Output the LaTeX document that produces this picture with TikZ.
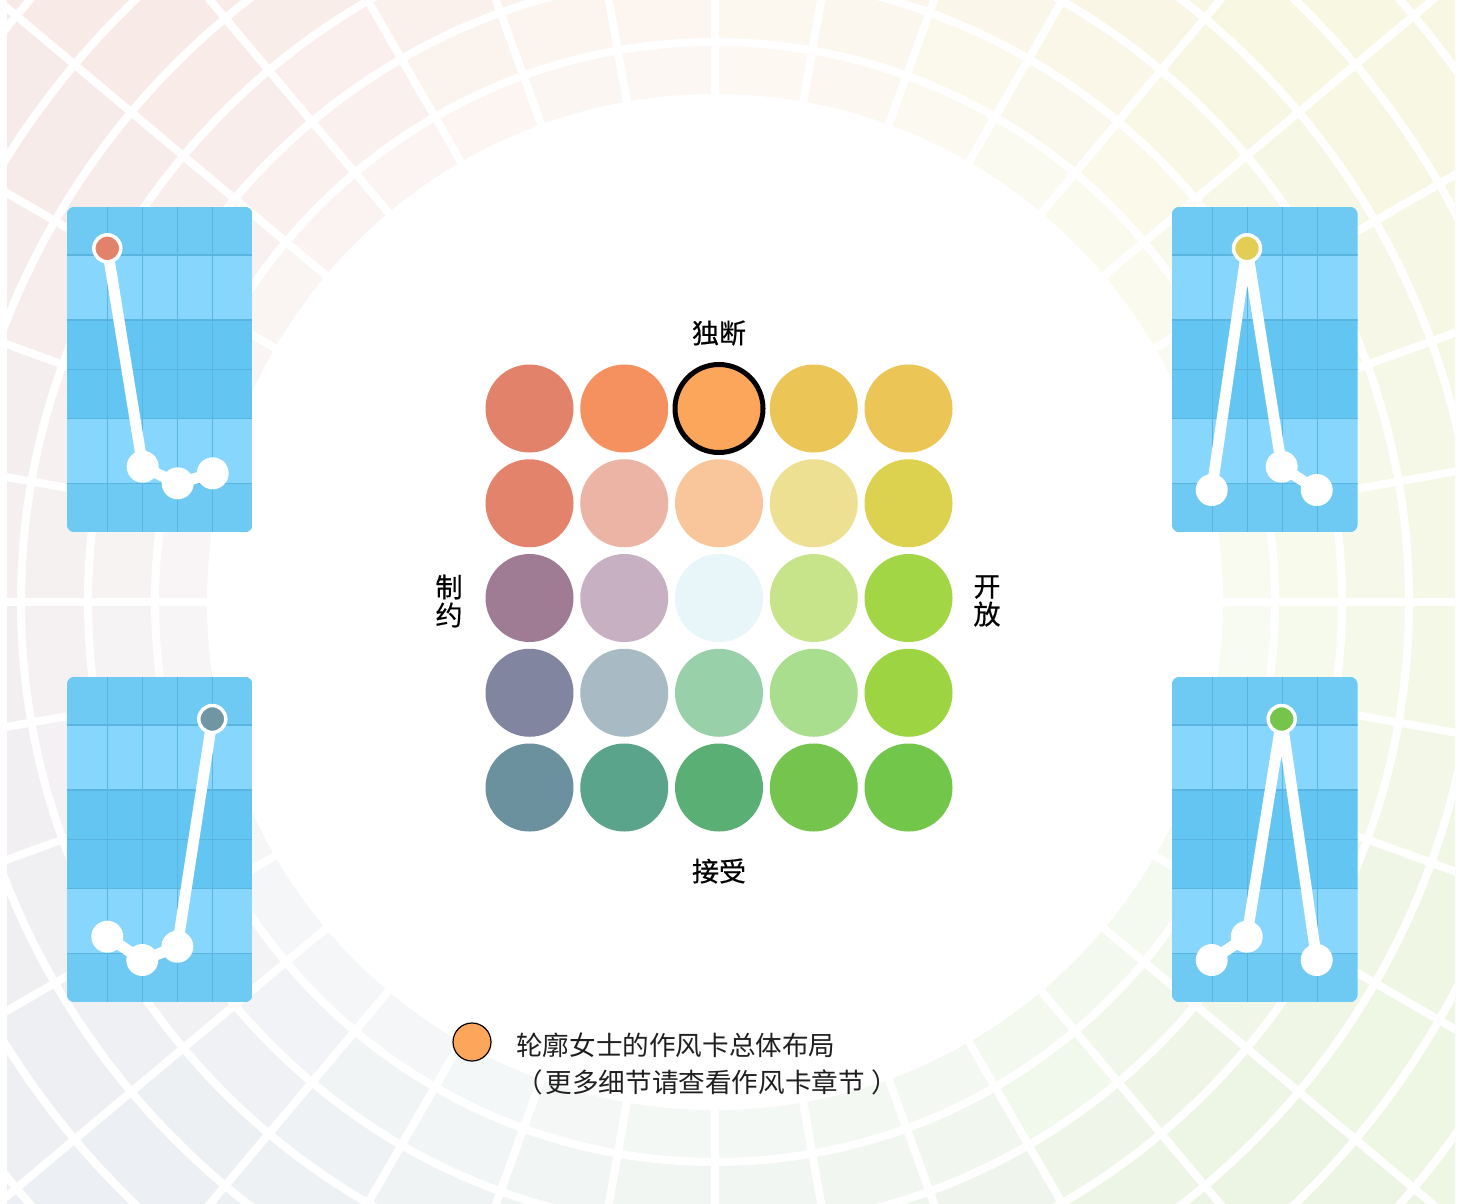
\documentclass[tikz,border=0pt]{standalone}
\usepackage{fontspec}
\newfontfamily\cjk{Noto Sans CJK SC}
\newfontfamily\cjkm{Noto Sans CJK SC}[FakeBold=0.5]
\usetikzlibrary{calc}
% background hue anchors (tikz angle, y pointing down)
\definecolor{c0}{HTML}{F4F8E6}
\definecolor{c1}{HTML}{ECF5E3}
\definecolor{c2}{HTML}{EBF3EE}
\definecolor{c3}{HTML}{ECEFF3}
\definecolor{c4}{HTML}{F4EEF0}
\definecolor{c5}{HTML}{F8EAE7}
\definecolor{c6}{HTML}{FCF3EA}
\definecolor{c7}{HTML}{F8F7E2}
\definecolor{c8}{HTML}{F4F8E6}
\definecolor{tmid}{HTML}{6ECAF3}
\definecolor{tlight}{HTML}{86D6FD}
\definecolor{tdark}{HTML}{63C5F1}
\definecolor{tgrid}{HTML}{59B5E0}
\definecolor{dotTL}{HTML}{E2826B}
\definecolor{dotTR}{HTML}{E3CD55}
\definecolor{dotBL}{HTML}{6F96A2}
\definecolor{dotBR}{HTML}{76C54B}
\definecolor{legendfill}{HTML}{FCA65B}
\tikzset{
  gridline/.style={white, line width=8},
  tline/.style={tgrid, line width=1.3},
  link/.style={white, line width=11, line cap=round, line join=round},
  wpt/.style={circle, fill=white, minimum size=32, inner sep=0},
  cdot/.style={circle, fill=#1, draw=white, line width=3.5, minimum size=27, inner sep=0},
  swatch/.style={circle, fill=#1, minimum size=88, inner sep=0},
  lbl/.style={inner sep=0, font=\cjkm\fontsize{27}{28}\selectfont, text=black},
  legtext/.style={inner sep=0, anchor=west, font=\cjk\fontsize{26.6}{37}\selectfont, text=black!88}
}
\newcommand\tilepanel[2]{%
  \begin{scope}[shift={(#1,#2)}]
    \begin{scope}
      \clip[rounded corners=8] (0,0) rectangle (186,325.6);
      \fill[tmid] (0,0) rectangle (186,48.3);
      \fill[tlight] (0,48.3) rectangle (186,113.3);
      \fill[tdark] (0,113.3) rectangle (186,211.6);
      \fill[tlight] (0,211.6) rectangle (186,276.6);
      \fill[tmid] (0,276.6) rectangle (186,325.6);
      \foreach \xx in {40.5,75.5,110.5,145.5} \draw[tline] (\xx,0) -- (\xx,325.6);
      \foreach \yy in {48.3,113.3,162.6,211.6,276.6} \draw[tline] (0,\yy) -- (186,\yy);
    \end{scope}
  \end{scope}}
\begin{document}
\begin{tikzpicture}[x=1pt,y=-1pt]
\useasboundingbox (0,0) rectangle (1466,1203);
\fill[white] (0,0) rectangle (1466,1203);
\coordinate (C) at (715,602);
% ---- background colour wheel ----
\begin{scope}
  \clip (7,0) rectangle (1455,1203);
  \foreach \k in {0,...,35}{
    \pgfmathsetmacro\mid{10*\k+5}
    \pgfmathtruncatemacro\ia{floor(\mid/45)}
    \pgfmathtruncatemacro\ib{\ia+1}
    \pgfmathtruncatemacro\tt{round((\mid-45*\ia)/45*100)}
    \pgfmathsetmacro\sa{10*\k}
    \fill[c\ib!\tt!c\ia] (715,602) -- ++(\sa:1150) arc[start angle=\sa, delta angle=10, radius=1150] -- cycle;
  }
  \foreach \ri/\ro/\op in {500/564/0.45, 564/631/0.3, 631/698/0.18, 698/766/0.08}{
    \fill[white, opacity=\op, even odd rule] (715,602) circle[radius=\ro] (715,602) circle[radius=\ri];
  }
  \foreach \r in {560,627,694,762,836,912,995}
    \draw[gridline] (715,602) circle[radius=\r];
  \foreach \a in {0,10,...,350}
    \draw[gridline] (715,602) ++(\a:500) -- ++(\a:700);
\end{scope}
\fill[white] (C) circle[radius=508];
% ---- panels ----
\tilepanel{66.7}{206.7}
\tilepanel{1171.7}{206.7}
\tilepanel{66.7}{676.7}
\tilepanel{1171.7}{676.7}
% top-left
\coordinate (tl0) at (107.3,248.3);
\coordinate (tl1) at (142.7,466.7);
\coordinate (tl2) at (177.7,483.3);
\coordinate (tl3) at (212.7,473.3);
\draw[link] (tl0) -- (tl1) -- (tl2) -- (tl3);
\node[wpt] (tlp1) at (tl1) {};
\node[wpt] (tlp2) at (tl2) {};
\node[wpt] (tlp3) at (tl3) {};
\node[cdot=dotTL] (tld) at (tl0) {};
% top-right
\coordinate (tr0) at (1247,248.3);
\coordinate (tr1) at (1211.7,490);
\coordinate (tr2) at (1281.7,466.7);
\coordinate (tr3) at (1316.7,490);
\draw[link] (tr1) -- (tr0) -- (tr2) -- (tr3);
\node[wpt] (trp1) at (tr1) {};
\node[wpt] (trp2) at (tr2) {};
\node[wpt] (trp3) at (tr3) {};
\node[cdot=dotTR] (trd) at (tr0) {};
% bottom-left
\coordinate (bl0) at (212.3,719);
\coordinate (bl1) at (107.3,936.7);
\coordinate (bl2) at (142.3,960);
\coordinate (bl3) at (177.3,946.7);
\draw[link] (bl1) -- (bl2) -- (bl3) -- (bl0);
\node[wpt] (blp1) at (bl1) {};
\node[wpt] (blp2) at (bl2) {};
\node[wpt] (blp3) at (bl3) {};
\node[cdot=dotBL] (bld) at (bl0) {};
% bottom-right
\coordinate (br0) at (1281.7,719);
\coordinate (br1) at (1211.7,960);
\coordinate (br2) at (1246.7,936.7);
\coordinate (br3) at (1316.7,960);
\draw[link] (br1) -- (br2) -- (br0) -- (br3);
\node[wpt] (brp1) at (br1) {};
\node[wpt] (brp2) at (br2) {};
\node[wpt] (brp3) at (br3) {};
\node[cdot=dotBR] (brd) at (br0) {};
% ---- colour matrix ----
\foreach \row/\cols in {1/{E2826B,F4915F,FCA65B,ECC557,ECC557},
                        2/{E3836C,EBB4A4,F9C69B,EDE093,DCD250},
                        3/{9F7C93,C6B0C1,E8F5F9,C8E48B,A3D644},
                        4/{82859F,A8BBC4,98D0AA,A9DE8E,9CD442},
                        5/{6B919F,5AA48C,5AAF75,74C44E,72C74A}}{
  \foreach \hex [count=\col] in \cols {
    \definecolor{sw}{HTML}{\hex}
    \node[swatch=sw] (m-\row-\col) at ({529.5+94.75*(\col-1)},{408.5+94.75*(\row-1)}) {};
  }
}
\node[circle, fill=legendfill, draw=black, line width=5, minimum size=88, inner sep=0] (sel) at (719,408.5) {};
% ---- axis labels ----
\node[lbl] (top) at (719,333) {独断};
\node[lbl] (bottom) at (719,871) {接受};
\node[lbl, align=center] (left) at (449,601) {制\\约};
\node[lbl, align=center] (right) at (987,601) {开\\放};
% ---- legend ----
\node[circle, fill=legendfill, draw=black, line width=1.2, minimum size=38, inner sep=0] (leg) at (472,1042) {};
\node[legtext] (leg1) at (516,1045) {轮廓女士的作风卡总体布局};
\node[legtext] (leg2) at (516,1082) {（\hspace{3pt}更多细节请查看作风卡章节\hspace{7pt}）};
\end{tikzpicture}
\end{document}
